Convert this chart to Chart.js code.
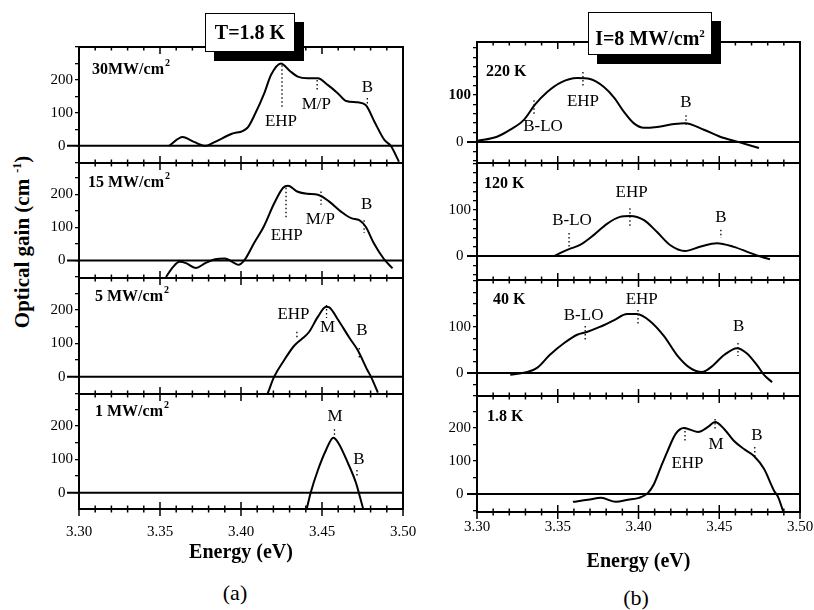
<!DOCTYPE html>
<html>
<head>
<meta charset="utf-8">
<script src="https://cdn.jsdelivr.net/npm/chart.js@4.4.1/dist/chart.umd.min.js"></script>
<style>
  body { margin: 0; background: #fff; }
  #page { position: relative; width: 814px; height: 610px; overflow: hidden; font-family: "Liberation Serif", serif; color: #000; }
  #page canvas { position: absolute; }
  .box { position: absolute; background: #fff; border: 1.5px solid #000; box-shadow: 9px 9px 0 #000;
         font-weight: bold; font-size: 20px; text-align: center; box-sizing: border-box; z-index: 5; white-space: nowrap; }
  .box sup { font-size: 11px; }
  .ytitle { position: absolute; left: 22px; top: 242px; transform: translate(-50%, -50%) rotate(-90deg);
            font-weight: bold; font-size: 21px; white-space: nowrap; }
  .ytitle sup { font-size: 12px; margin-left: 6px; }
  .sub { position: absolute; font-size: 22px; transform: translate(-50%, -50%); }
</style>
</head>
<body>
<div id="page">
  <div class="ytitle">Optical gain (cm<sup>-1</sup>)</div>
  <div class="box" style="left:205px;top:13px;width:90px;height:39px;line-height:36px;">T=1.8 K</div>
  <div class="box" style="left:588px;top:12px;width:124px;height:43px;line-height:40px;">I=8 MW/cm<sup>2</sup></div>
  <div class="sub" style="left:235px;top:593px;">(a)</div>
  <div class="sub" style="left:636px;top:598px;">(b)</div>
</div>
<script>
const xMin = 3.30, xMax = 3.50;

// (a) T = 1.8 K, different excitation intensities
const energy30MW = [3.3556, 3.3640, 3.3710, 3.3780, 3.3830, 3.3940, 3.4040, 3.4085, 3.4144, 3.4185, 3.4247, 3.4300, 3.4350, 3.4412, 3.4474, 3.4535, 3.4597, 3.4650, 3.4720, 3.4770, 3.4823, 3.4885, 3.4925, 3.4975];
const gain30MW   = [0, 27, 12, 0, 10, 36, 55, 95, 160, 215, 250, 228, 210, 205, 205, 185, 160, 136, 132, 124, 74, 18, 0, -48];

const energy15MW = [3.3537, 3.3580, 3.3620, 3.3660, 3.3720, 3.3780, 3.3840, 3.3900, 3.3960, 3.3985, 3.4020, 3.4080, 3.4140, 3.4205, 3.4260, 3.4290, 3.4350, 3.4410, 3.4475, 3.4545, 3.4617, 3.4680, 3.4730, 3.4770, 3.4820, 3.4880, 3.4935];
const gain15MW   = [-50, -20, -4, -8, -23, -8, 4, 6, -8, -13, 0, 52, 102, 173, 220, 226, 208, 202, 199, 178, 148, 128, 122, 102, 52, 6, -24];

const energy5MW = [3.4165, 3.4205, 3.4267, 3.4327, 3.4380, 3.4420, 3.4475, 3.4525, 3.4545, 3.4600, 3.4670, 3.4720, 3.4780, 3.4802, 3.4845];
const gain5MW   = [-50, 0, 50, 92, 115, 134, 180, 210, 208, 170, 116, 80, 20, 0, -48];

const energy1MW = [3.4407, 3.4430, 3.4475, 3.4525, 3.4570, 3.4600, 3.4660, 3.4710, 3.4731, 3.4753];
const gain1MW   = [-46, 0, 68, 128, 165, 150, 89, 29, -7, -46];

// (b) I = 8 MW/cm2, different temperatures
const energy220K = [3.3000, 3.3124, 3.3206, 3.3290, 3.3360, 3.3433, 3.3515, 3.3620, 3.3700, 3.3786, 3.3850, 3.3910, 3.3970, 3.4034, 3.4115, 3.4220, 3.4288, 3.4405, 3.4505, 3.4616, 3.4746];
const gain220K   = [2, 11, 26, 47, 80, 106, 126, 136, 134, 117, 94, 64, 40, 30, 32, 38, 40, 26, 11, 0, -13];

const energy120K = [3.3477, 3.3570, 3.3638, 3.3724, 3.3805, 3.3885, 3.3947, 3.4034, 3.4115, 3.4195, 3.4288, 3.4380, 3.4486, 3.4590, 3.4690, 3.4765, 3.4814];
const gain120K   = [0, 15, 24, 46, 70, 85, 87, 78, 52, 24, 11, 20, 28, 20, 7, -2, -7];

const energy40K = [3.3206, 3.3310, 3.3372, 3.3450, 3.3540, 3.3620, 3.3680, 3.3760, 3.3850, 3.3929, 3.3990, 3.4070, 3.4158, 3.4238, 3.4319, 3.4393, 3.4443, 3.4530, 3.4610, 3.4670, 3.4734, 3.4777, 3.4827];
const gain40K   = [-4, 2, 11, 39, 65, 83, 89, 100, 115, 128, 128, 113, 80, 39, 11, 2, 11, 39, 54, 43, 17, -4, -20];

const energy1p8K = [3.3594, 3.3687, 3.3768, 3.3860, 3.3935, 3.4003, 3.4059, 3.4096, 3.4139, 3.4180, 3.4230, 3.4280, 3.4368, 3.4430, 3.4474, 3.4530, 3.4590, 3.4653, 3.4715, 3.4777, 3.4840, 3.4864, 3.4895];
const gain1p8K   = [-24, -18, -12, -24, -18, -12, 3, 30, 82, 130, 182, 200, 188, 203, 218, 197, 161, 136, 115, 76, 9, -9, -52];

// peak markers: [energy, gain top, gain bottom]
const marks30MW = [[3.4253, 245, 118], [3.4470, 200, 165], [3.4780, 145, 118]];
const marks15MW = [[3.4278, 220, 128], [3.4494, 209, 169], [3.4760, 122, 83]];
const marks5MW  = [[3.4345, 135, 112], [3.4528, 215, 176], [3.4730, 86, 55]];
const marks1MW  = [[3.4577, 190, 172], [3.4716, 68, 44]];
const marks220K = [[3.3353, 89, 57], [3.3656, 149, 117], [3.4294, 57, 32]];
const marks120K = [[3.3570, 50, 20], [3.3947, 104, 61], [3.4510, 57, 39]];
const marks40K  = [[3.3670, 102, 70], [3.3997, 137, 104], [3.4616, 65, 37]];
const marks1p8K = [[3.4288, 203, 161], [3.4474, 227, 191], [3.4720, 142, 112]];

// peak names: [text, energy, gain]
const notes30MW = [['EHP', 3.4247, 75], ['M/P', 3.4465, 124], ['B', 3.4781, 178]];
const notes15MW = [['EHP', 3.4282, 77], ['M/P', 3.4490, 125], ['B', 3.4775, 170]];
const notes5MW  = [['EHP', 3.4324, 185], ['M', 3.4534, 147], ['B', 3.4747, 137]];
const notes1MW  = [['M', 3.4580, 228], ['B', 3.4728, 98]];
const notes220K = [['B-LO', 3.3409, 32], ['EHP', 3.3656, 85], ['B', 3.4294, 83]];
const notes120K = [['B-LO', 3.3588, 78], ['EHP', 3.3957, 137], ['B', 3.4510, 83]];
const notes40K  = [['B-LO', 3.3660, 124], ['EHP', 3.4020, 159], ['B', 3.4620, 100]];
const notes1p8K = [['EHP', 3.4303, 91], ['M', 3.4480, 149], ['B', 3.4734, 177]];

const labelsA = [0, 100, 200];
const labelsB = [0, 100];

// column layout
const cols = {
  a: { left: 0, width: 420, axisW: 79, padR: 17, tickGap: 14, titleH: 56, ext: 12 },
  b: { left: 412, width: 402, axisW: 65, padR: 14, tickGap: 6, titleH: 62, ext: 10 }
};

const panels = [
  { col: 'a', top: 47, bottom: 163, yMin: -52, yMax: 300, step: 50, yLabels: labelsA, name: '30MW/cm', sup: '2', dx: 13, dy: 23, e: energy30MW, g: gain30MW, marks: marks30MW, notes: notes30MW, first: true },
  { col: 'a', top: 163, bottom: 278, yMin: -53, yMax: 295, step: 50, yLabels: labelsA, name: '15 MW/cm', sup: '2', dx: 9, dy: 20, e: energy15MW, g: gain15MW, marks: marks15MW, notes: notes15MW },
  { col: 'a', top: 278, bottom: 394, yMin: -52, yMax: 296, step: 50, yLabels: labelsA, name: '5 MW/cm', sup: '2', dx: 16, dy: 19, e: energy5MW, g: gain5MW, marks: marks5MW, notes: notes5MW },
  { col: 'a', top: 394, bottom: 509, yMin: -49, yMax: 296, step: 50, yLabels: labelsA, name: '1 MW/cm', sup: '2', dx: 16, dy: 18, e: energy1MW, g: gain1MW, marks: marks1MW, notes: notes1MW, last: true },
  { col: 'b', top: 42, bottom: 163, yMin: -45, yMax: 213, step: 20, yLabels: labelsB, bold: true, name: '220 K', dx: 9, dy: 30, e: energy220K, g: gain220K, marks: marks220K, notes: notes220K, first: true },
  { col: 'b', top: 163, bottom: 280, yMin: -52, yMax: 202, step: 20, yLabels: labelsB, name: '120 K', dx: 7, dy: 21, e: energy120K, g: gain120K, marks: marks120K, notes: notes120K },
  { col: 'b', top: 280, bottom: 396, yMin: -50, yMax: 202, step: 25, yLabels: labelsB, name: '40 K', dx: 16, dy: 20, e: energy40K, g: gain40K, marks: marks40K, notes: notes40K },
  { col: 'b', top: 396, bottom: 512, yMin: -55, yMax: 297, step: 50, yLabels: labelsA, name: '1.8 K', dx: 10, dy: 21, e: energy1p8K, g: gain1p8K, marks: marks1p8K, notes: notes1p8K, last: true }
];

const serif = '"Liberation Serif", "Times New Roman", serif';

// frame, ticks across the panel edges, zero line and text
const panelDeco = {
  id: 'panelDeco',
  beforeDatasetsDraw(chart, args, o) {
    const { ctx, chartArea: a, scales: { y } } = chart;
    const y0 = y.getPixelForValue(0);
    ctx.save();
    ctx.strokeStyle = '#000';
    ctx.lineWidth = 2;
    ctx.beginPath();
    ctx.moveTo(a.left - o.ext, y0);
    ctx.lineTo(a.right, y0);
    ctx.stroke();
    ctx.restore();
  },
  afterDatasetsDraw(chart, args, o) {
    const { ctx, chartArea: a, scales: { x, y } } = chart;
    ctx.save();
    ctx.strokeStyle = '#000';
    ctx.fillStyle = '#000';
    ctx.lineWidth = 2;
    ctx.strokeRect(a.left, a.top, a.right - a.left, a.bottom - a.top);
    ctx.lineWidth = 1.5;
    ctx.beginPath();
    for (let i = 0; i <= 20; i++) {
      const px = x.getPixelForValue((330 + i) / 100);
      const len = i % 5 === 0 ? 7 : 3.5;
      ctx.moveTo(px, a.bottom - len);
      ctx.lineTo(px, a.bottom + len);
      if (o.first) {
        ctx.moveTo(px, a.top);
        ctx.lineTo(px, a.top + len);
      }
    }
    ctx.stroke();

    ctx.textBaseline = 'middle';
    ctx.textAlign = 'left';
    ctx.font = 'bold 16px ' + serif;
    const lx = a.left + o.dx, ly = a.top + o.dy;
    ctx.fillText(o.name, lx, ly);
    if (o.sup) {
      const w = ctx.measureText(o.name).width;
      ctx.font = 'bold 10px ' + serif;
      ctx.fillText(o.sup, lx + w + 1, ly - 7);
    }

    ctx.textAlign = 'center';
    ctx.font = '17px ' + serif;
    o.notes.forEach(([t, e, g]) => {
      ctx.fillText(t, x.getPixelForValue(e), y.getPixelForValue(g));
    });
    ctx.restore();
  }
};

const page = document.getElementById('page');

panels.forEach(p => {
  const c = cols[p.col];
  const padT = 12;
  const h = p.bottom - p.top;
  const canvasH = p.last ? h + padT + c.titleH : h + padT * 2;
  const cv = document.createElement('canvas');
  cv.width = c.width;
  cv.height = canvasH;
  cv.style.left = c.left + 'px';
  cv.style.top = (p.top - padT) + 'px';
  page.appendChild(cv);

  const datasets = [{
    data: p.e.map((e, i) => ({ x: e, y: p.g[i] })),
    borderColor: '#000',
    borderWidth: 2,
    pointRadius: 0,
    cubicInterpolationMode: 'monotone'
  }];
  p.marks.forEach(([e, g1, g2]) => {
    datasets.push({
      data: [{ x: e, y: g1 }, { x: e, y: g2 }],
      borderColor: '#000',
      borderWidth: 1.3,
      borderDash: [1.5, 2.5],
      pointRadius: 0,
      tension: 0
    });
  });

  new Chart(cv, {
    type: 'line',
    data: { datasets },
    plugins: [panelDeco],
    options: {
      responsive: false,
      animation: false,
      devicePixelRatio: 1,
      layout: { padding: { left: 0, right: c.padR, top: padT, bottom: p.last ? 0 : padT } },
      plugins: {
        legend: { display: false },
        tooltip: { enabled: false },
        panelDeco: { ext: c.ext, first: !!p.first, name: p.name, sup: p.sup, dx: p.dx, dy: p.dy, notes: p.notes }
      },
      scales: {
        x: {
          type: 'linear',
          min: xMin,
          max: xMax,
          display: !!p.last,
          grid: { display: false, drawTicks: true, tickLength: c.tickGap },
          border: { display: false },
          ticks: {
            stepSize: 0.05,
            autoSkip: false,
            padding: 0,
            color: '#000',
            font: { family: serif, size: 15 },
            callback: v => v.toFixed(2)
          },
          title: {
            display: true,
            text: 'Energy (eV)',
            color: '#000',
            padding: { top: 0, bottom: 0 },
            font: { family: serif, size: 20, weight: 'bold' }
          },
          afterFit: s => { s.height = p.last ? c.titleH : 0; }
        },
        y: {
          min: p.yMin,
          max: p.yMax,
          grid: { drawOnChartArea: false, drawTicks: true, tickLength: 4, color: '#000', lineWidth: 1.3 },
          border: { display: false },
          ticks: {
            autoSkip: false,
            padding: 2,
            color: '#000',
            font: ctx => ({ family: serif, size: 15, weight: p.bold && ctx.tick && ctx.tick.value === 100 ? 'bold' : 'normal' }),
            // the zero label sits left of the zero line's stub
            callback: v => p.yLabels.includes(v) ? (v === 0 ? '0\u2002' : String(v)) : ''
          },
          afterBuildTicks: s => {
            const t = [];
            for (let v = Math.ceil(p.yMin / p.step) * p.step; v <= p.yMax; v += p.step) t.push({ value: v });
            s.ticks = t;
          },
          afterFit: s => { s.width = c.axisW; }
        }
      }
    }
  });
});
</script>
</body>
</html>
